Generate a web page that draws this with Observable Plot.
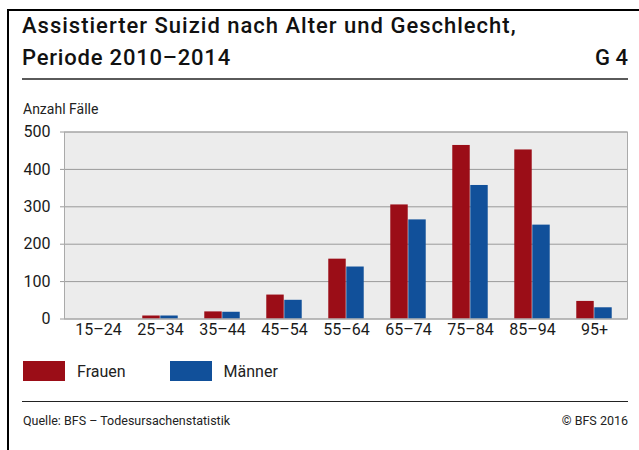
<!DOCTYPE html>
<html>
<head>
<meta charset="utf-8">
<script src="https://cdn.jsdelivr.net/npm/d3@7"></script>
<script src="https://cdn.jsdelivr.net/npm/@observablehq/plot@0.6"></script>
<style>
  html, body { margin: 0; padding: 0; background: #fff; }
  #page { position: relative; width: 639px; height: 450px; overflow: hidden; font-family: Roboto, "Liberation Sans", sans-serif; color: #1a1a1a; }
  .abs { position: absolute; white-space: nowrap; }
  #border-top { position: absolute; left: 7px; top: 9px; width: 632px; height: 2px; background: #000; }
  #border-left { position: absolute; left: 7px; top: 9px; width: 2px; height: 441px; background: #000; }
  .title { font-size: 22px; line-height: 22px; color: #111; font-weight: 500; letter-spacing: 1px; }
  #rule1 { position: absolute; left: 22px; top: 78px; width: 606px; height: 2px; background: #5a5a5a; }
  #rule2 { position: absolute; left: 22px; top: 401px; width: 606px; height: 1px; background: #222; }
  #ylabel { font-size: 14px; color: #222; }
  #chart { position: absolute; left: 0; top: 120px; }
  #legend { position: absolute; left: 23px; top: 361px; }
  #legend span { margin-right: 44px !important; color: #222; }
  #legend span svg { margin-right: 12px !important; }
  .src { font-size: 12.5px; color: #222; }
</style>
</head>
<body>
<div id="page">
  <div id="border-top"></div>
  <div id="border-left"></div>
  <div class="abs title" style="left:22px; top:15px;">Assistierter Suizid nach Alter und Geschlecht,</div>
  <div class="abs title" style="left:22px; top:47px; letter-spacing:0.8px;">Periode 2010–2014</div>
  <div class="abs title" style="right:11px; top:47px; letter-spacing:0;">G 4</div>
  <div id="rule1"></div>
  <div class="abs" id="ylabel" style="left:23px; top:101px;">Anzahl Fälle</div>
  <div id="chart"></div>
  <div id="legend"></div>
  <div id="rule2"></div>
  <div class="abs src" style="left:23px; top:413px;">Quelle: BFS – Todesursachenstatistik</div>
  <div class="abs src" style="right:11px; top:413px;">© BFS 2016</div>
</div>
<script>
const ageGroups = ["15–24", "25–34", "35–44", "45–54", "55–64", "65–74", "75–84", "85–94", "95+"];
const frauen = [0, 8, 19, 64, 160, 305, 464, 452, 47];
const maenner = [0, 8, 18, 50, 139, 265, 357, 251, 30];
const seriesNames = ["Frauen", "Männer"];
const seriesColors = ["#9b0d17", "#11509a"];
const yTicks = [0, 100, 200, 300, 400, 500];

const dataF = ageGroups.map((a, i) => ({age: a, value: frauen[i]}));
const dataM = ageGroups.map((a, i) => ({age: a, value: maenner[i]}));

const W = 639, H = 230;
const mL = 64, mR = 12, mT = 11.5, mB = 31.5;
const step = (W - mL - mR) / ageGroups.length;
const barW = 18;

const chart = Plot.plot({
  width: W,
  height: H,
  marginLeft: mL,
  marginRight: mR,
  marginTop: mT,
  marginBottom: mB,
  style: {fontFamily: "Roboto, sans-serif", color: "#1a1a1a", background: "transparent"},
  x: {domain: ageGroups, padding: 0, label: null},
  y: {domain: [0, 500], label: null},
  marks: [
    Plot.frame({fill: "#ececec", stroke: null}),
    Plot.gridY(yTicks, {stroke: "#9a9a9a", strokeOpacity: 1}),
    Plot.barY(dataF, {x: "age", y: "value", fill: seriesColors[0], insetLeft: step / 2 - barW, insetRight: step / 2}),
    Plot.barY(dataM, {x: "age", y: "value", fill: seriesColors[1], insetLeft: step / 2, insetRight: step / 2 - barW}),
    Plot.frame({stroke: "#aaaaaa"}),
    Plot.axisY(yTicks, {tickSize: 4, tickPadding: 10, stroke: "#9a9a9a", fontSize: 16, fill: "#1a1a1a", label: null}),
    Plot.axisX({tickSize: 0, tickPadding: 5, fontSize: 16, fill: "#1a1a1a", label: null})
  ]
});
document.getElementById("chart").appendChild(chart);

const legend = Plot.legend({
  color: {type: "ordinal", domain: seriesNames, range: seriesColors},
  swatchWidth: 42,
  swatchHeight: 20,
  style: {fontSize: "16px", fontFamily: "Roboto, sans-serif", color: "#222", marginLeft: "0px", minHeight: "20px"}
});
document.getElementById("legend").appendChild(legend);
</script>
</body>
</html>
